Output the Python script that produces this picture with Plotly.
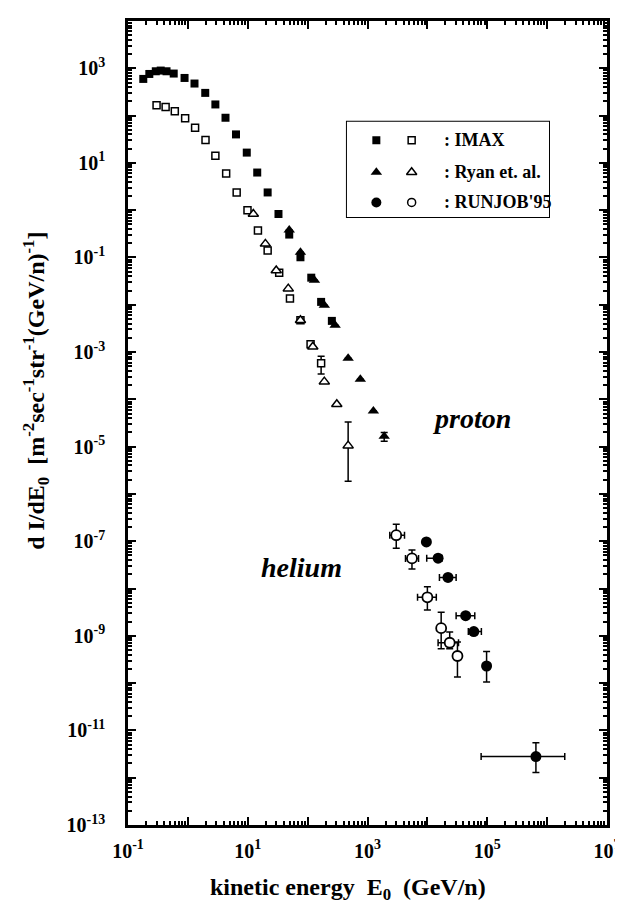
import plotly.graph_objects as go

# ---------------- data ----------------
# IMAX proton (filled squares)
imax_p_E = [0.18, 0.227, 0.291, 0.352, 0.44, 0.58, 0.88, 1.29, 1.95, 2.88, 4.25, 6.36,
            9.63, 14.4, 21.5, 32.6, 49.3, 75.9, 115, 168, 254]
imax_p_F = [596, 759, 865, 895, 865, 774, 625, 476, 302, 172, 90, 40,
            16.5, 6.25, 2.37, 0.83, 0.305, 0.101, 0.0374, 0.0115, 0.00456]

# IMAX helium (open squares)
imax_he_E = [0.30, 0.425, 0.605, 0.90, 1.32, 1.97, 2.88, 4.36, 6.53, 9.9, 14.8, 21.5,
             33.5, 50.7, 75.9, 112, 168]
imax_he_F = [166, 151, 124, 87.5, 55, 30.5, 14.1, 5.96, 2.37, 1.0, 0.37, 0.140,
             0.0476, 0.0135, 0.00472, 0.00147, 5.78e-4]
imax_he_F_lo = [None] * 16 + [3.44e-4]
imax_he_F_hi = [None] * 16 + [8.2e-4]

# Ryan et al. proton (filled triangles)
ryan_p_E = [49.3, 75.9, 130, 190, 288, 475, 759, 1254, 1900]
ryan_p_F = [0.383, 0.129, 0.0328, 0.00975, 0.0037, 7.36e-4, 2.66e-4, 5.7e-5, 1.65e-5]
ryan_p_F_lo = [None] * 8 + [1.3e-5]
ryan_p_F_hi = [None] * 8 + [2.0e-5]

# Ryan et al. helium (open triangles)
ryan_he_E = [12.4, 19.7, 29.9, 47.5, 75.9, 122, 190, 307, 475]
ryan_he_F = [0.83, 0.194, 0.0532, 0.0219, 0.00472, 0.00129, 2.37e-4, 7.9e-5, 1.05e-5]
ryan_he_F_lo = [None] * 8 + [1.86e-6]
ryan_he_F_hi = [None] * 8 + [3.3e-5]

# RUNJOB'95 proton (filled circles)
rj_p_E = [9630, 1.51e4, 2.21e4, 4.36e4, 5.96e4, 9.75e4, 6.5e5]
rj_p_F = [9.66e-8, 4.38e-8, 1.72e-8, 2.67e-9, 1.23e-9, 2.30e-10, 2.8e-12]
rj_p_E_lo = [None, 9750, 1.59e4, 3.02e4, 4.83e4, None, 7.9e4]
rj_p_E_hi = [None, 1.76e4, 3.02e4, 6.19e4, 7.98e4, None, 1.97e6]
rj_p_F_lo = [None, None, None, None, None, 1.06e-10, 1.29e-12]
rj_p_F_hi = [None, None, None, None, None, 4.67e-10, 5.5e-12]

# RUNJOB'95 helium (open circles)
rj_he_E = [3020, 5530, 1.0e4, 1.70e4, 2.36e4, 3.18e4]
rj_he_F = [1.34e-7, 4.33e-8, 6.53e-9, 1.45e-9, 7.13e-10, 3.74e-10]
rj_he_E_lo = [2355, 4310, 6850, None, 1.51e4, None]
rj_he_E_hi = [4150, 7120, 1.41e4, None, 3.31e4, None]
rj_he_F_lo = [7.13e-8, 2.58e-8, 3.52e-9, 5.3e-10, 5.3e-10, 1.35e-10]
rj_he_F_hi = [2.28e-7, 6.56e-8, 1.09e-8, 3.16e-9, 1.21e-9, 7.36e-10]

# tick labels
x_decades = list(range(-1, 8))
x_tick_labels = ["10<sup>-1</sup>", "", "10<sup>1</sup>", "", "10<sup>3</sup>", "",
                 "10<sup>5</sup>", "", "10<sup>7</sup>"]
y_decades = list(range(-13, 5))
y_tick_labels = ["10<sup>-13</sup>", "", "10<sup>-11</sup>", "", "10<sup>-9</sup>", "",
                 "10<sup>-7</sup>", "", "10<sup>-5</sup>", "", "10<sup>-3</sup>", "",
                 "10<sup>-1</sup>", "", "10<sup>1</sup>", "", "10<sup>3</sup>", ""]

legend_labels = [": IMAX", ": Ryan et. al.", ": RUNJOB'95"]

# ---------------- helpers ----------------
def plus(vals, hi):
    return [None if h is None else h - v for v, h in zip(vals, hi)]


def minus(vals, lo):
    return [None if l is None else v - l for v, l in zip(vals, lo)]


FONT = "Liberation Serif"
ERR = dict(color="black", thickness=1.5, width=3.5)

fig = go.Figure()


def add(xv, yv, symbol, size, filled, ex=None, ey=None, lw=1.5):
    marker = dict(symbol=symbol, size=size,
                  color="black" if filled else "white",
                  line=dict(color="black", width=0 if filled else lw))
    tr = go.Scatter(x=xv, y=yv, mode="markers", marker=marker, showlegend=False,
                    cliponaxis=False)
    if ey is not None:
        tr.error_y = dict(type="data", symmetric=False, array=ey[0], arrayminus=ey[1], **ERR)
    if ex is not None:
        tr.error_x = dict(type="data", symmetric=False, array=ex[0], arrayminus=ex[1], **ERR)
    fig.add_trace(tr)


add(imax_p_E, imax_p_F, "square", 8, True)
add(ryan_p_E, ryan_p_F, "triangle-up", 10, True,
    ey=(plus(ryan_p_F, ryan_p_F_hi), minus(ryan_p_F, ryan_p_F_lo)))
add(rj_p_E, rj_p_F, "circle", 11, True,
    ex=(plus(rj_p_E, rj_p_E_hi), minus(rj_p_E, rj_p_E_lo)),
    ey=(plus(rj_p_F, rj_p_F_hi), minus(rj_p_F, rj_p_F_lo)))
add(imax_he_E, imax_he_F, "square", 7, False,
    ey=(plus(imax_he_F, imax_he_F_hi), minus(imax_he_F, imax_he_F_lo)))
add(ryan_he_E, ryan_he_F, "triangle-up", 9, False,
    ey=(plus(ryan_he_F, ryan_he_F_hi), minus(ryan_he_F, ryan_he_F_lo)))
add(rj_he_E, rj_he_F, "circle", 10, False,
    ex=(plus(rj_he_E, rj_he_E_hi), minus(rj_he_E, rj_he_E_lo)),
    ey=(plus(rj_he_F, rj_he_F_hi), minus(rj_he_F, rj_he_F_lo)), lw=1.8)

# ---------------- legend (on an auxiliary hidden axis pair) ----------------
leg_rows = [0.80, 0.47, 0.16]
leg_syms = [("square", 8, 7), ("triangle-up", 10, 9), ("circle", 10, 8)]
for row, (sym, sf, so) in zip(leg_rows, leg_syms):
    fig.add_trace(go.Scatter(x=[0.149], y=[row], xaxis="x2", yaxis="y2", mode="markers",
                             marker=dict(symbol=sym, size=sf, color="black"),
                             showlegend=False, hoverinfo="skip"))
    fig.add_trace(go.Scatter(x=[0.322], y=[row], xaxis="x2", yaxis="y2", mode="markers",
                             marker=dict(symbol=sym, size=so, color="white",
                                         line=dict(color="black", width=1.5)),
                             showlegend=False, hoverinfo="skip"))
annotations = []
for row, lab in zip(leg_rows, legend_labels):
    annotations.append(dict(x=0.47, y=row, xref="x2", yref="y2", text=lab, showarrow=False,
                            xanchor="left", yanchor="middle",
                            font=dict(family=FONT, size=18, color="black", weight="bold")))

# ---------------- text labels ----------------
annotations += [
    dict(x=4.738, y=-4.40, xref="x", yref="y", text="proton", showarrow=False,
         font=dict(family=FONT, size=28, color="black", weight="bold", style="italic")),
    dict(x=1.897, y=-7.56, xref="x", yref="y", text="helium", showarrow=False,
         font=dict(family=FONT, size=28, color="black", weight="bold", style="italic")),
    dict(x=0.459, y=-0.080, xref="paper", yref="paper", showarrow=False,
         text="kinetic energy\u00a0\u00a0E<sub>0</sub>\u00a0\u00a0(GeV/n)",
         xanchor="center", yanchor="middle",
         font=dict(family=FONT, size=24, color="black", weight="bold")),
    dict(x=-0.192, y=0.540, xref="paper", yref="paper", showarrow=False, textangle=-90,
         text="d I/dE<sub>0</sub>\u00a0\u00a0[m<sup>-2</sup>sec<sup>-1</sup>str<sup>-1</sup>(GeV/n)<sup>-1</sup>]",
         xanchor="center", yanchor="middle",
         font=dict(family=FONT, size=24, color="black", weight="bold")),
]

minor_x = [m * 10 ** d for d in range(-1, 7) for m in range(2, 10)]
minor_y = [m * 10 ** d for d in range(-13, 4) for m in range(2, 10)]

axis_common = dict(
    type="log", showgrid=False, zeroline=False, showline=True, linewidth=2.5,
    linecolor="black", mirror="ticks", ticks="inside", ticklen=8, tickwidth=2,
    tickcolor="black",
    tickfont=dict(family=FONT, size=20, color="black", weight="bold"),
)

fig.update_layout(
    width=623, height=904, autosize=False,
    margin=dict(l=120, r=15, t=10, b=87),
    paper_bgcolor="white", plot_bgcolor="white",
    xaxis=dict(range=[-1, 7], tickmode="array",
               tickvals=[10 ** d for d in x_decades], ticktext=x_tick_labels,
               minor=dict(tickmode="array", tickvals=minor_x, ticks="inside", ticklen=4,
                          tickwidth=1.5, tickcolor="black"),
               ticklabelstandoff=6, **axis_common),
    yaxis=dict(range=[-13, 4], tickmode="array",
               tickvals=[10 ** d for d in y_decades], ticktext=y_tick_labels,
               minor=dict(tickmode="array", tickvals=minor_y, ticks="inside", ticklen=4,
                          tickwidth=1.5, tickcolor="black"),
               ticklabelstandoff=16, **axis_common),
    xaxis2=dict(domain=[0.455, 0.881], range=[0, 1], visible=False, anchor="y2"),
    yaxis2=dict(domain=[0.755, 0.876], range=[0, 1], visible=False, anchor="x2"),
    shapes=[dict(type="rect", xref="x2", yref="y2", x0=0, x1=1, y0=0, y1=1,
                 line=dict(color="black", width=2), fillcolor="rgba(0,0,0,0)")],
    annotations=annotations,
)

fig.write_html("out.html")
